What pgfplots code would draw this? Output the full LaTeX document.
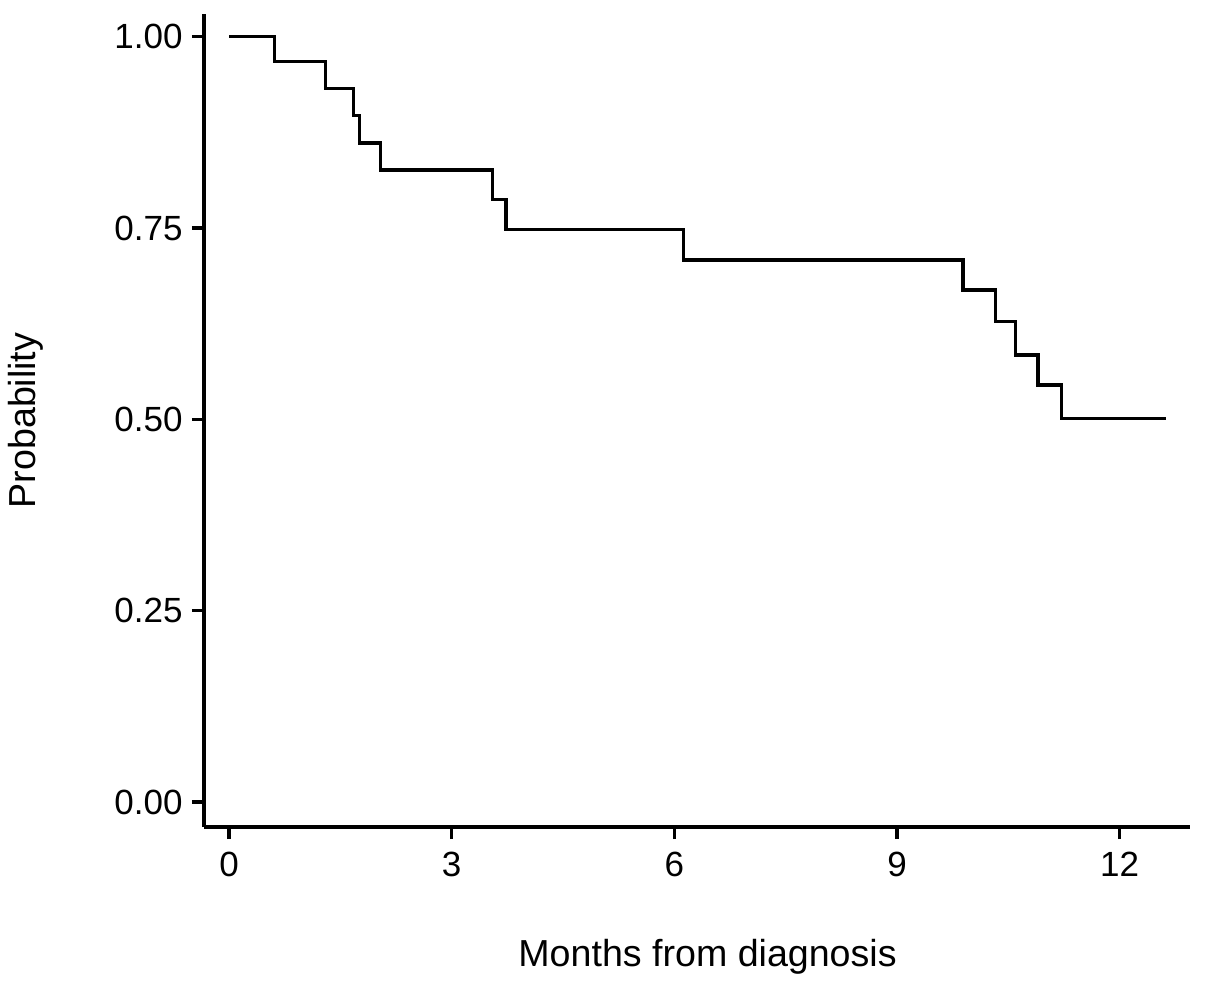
\documentclass[border=0pt]{standalone}
\usepackage{fontspec}
\setmainfont{Liberation Sans}
\usepackage{pgfplots}
\pgfplotsset{compat=1.18}
\begin{document}
\begin{tikzpicture}
\begin{axis}[
  at={(0,0)}, anchor=south west,
  scale only axis, width=493pt, height=406.5pt,
  xmin=-0.337, xmax=12.948, ymin=-0.0327, ymax=1.0297,
  axis lines*=left,
  axis line style={-, line width=1.6pt, black},
  xtick={0,3,6,9,12}, ytick={0,0.25,0.5,0.75,1},
  tick align=outside, major tick length=6pt,
  every tick/.style={black, line width=1.6pt},
  /pgf/number format/assume math mode=true,
  yticklabel style={/pgf/number format/fixed, /pgf/number format/fixed zerofill, /pgf/number format/precision=2, font=\fontsize{17.5}{20}\selectfont, xshift=-1.2pt},
  xticklabel style={font=\fontsize{17.5}{20}\selectfont, yshift=-3pt},
  xlabel={Months from diagnosis}, ylabel={Probability},
  xlabel style={at={(axis description cs:0.5107,-0.1718)}, anchor=base, font=\fontsize{18.8}{22}\selectfont},
  ylabel style={at={(axis description cs:-0.1704,0.5)}, anchor=base, font=\fontsize{18.8}{22}\selectfont},
  clip=false,
]
\addplot[const plot, black, line width=1.7pt] coordinates {
(0,1.000) (0.61,0.968) (1.30,0.932) (1.68,0.897) (1.76,0.861) (2.04,0.826)
(3.55,0.787) (3.73,0.748) (6.12,0.708) (9.89,0.669) (10.33,0.628) (10.60,0.584)
(10.90,0.545) (11.22,0.501) (12.63,0.501)
};
\end{axis}
\pgfresetboundingbox
\path[use as bounding box] (-102pt,-79pt) rectangle (500.5pt,413.5pt);
\end{tikzpicture}
\end{document}
